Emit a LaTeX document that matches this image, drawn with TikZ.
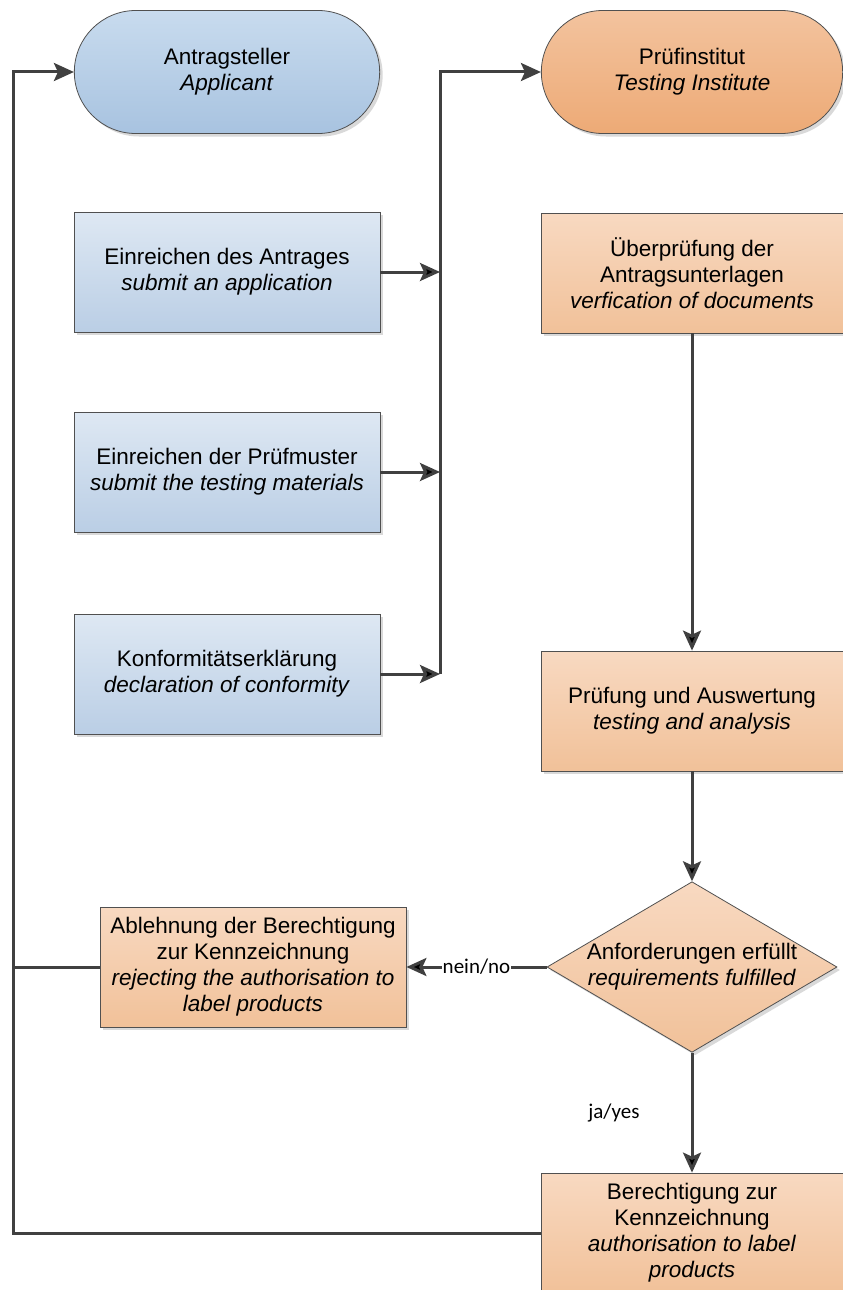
\documentclass[tikz,border=0pt]{standalone}
\usepackage{fontspec}
\setmainfont{Liberation Sans}
\newfontfamily\lblfont{Carlito}
\usetikzlibrary{arrows.meta, shapes.misc, shapes.geometric, shadows}

\definecolor{appTop}{HTML}{C8DBEE}
\definecolor{appBot}{HTML}{A8C3E0}
\definecolor{blueTop}{HTML}{DEE8F3}
\definecolor{blueBot}{HTML}{BACEE5}
\definecolor{instTop}{HTML}{F3C39E}
\definecolor{instBot}{HTML}{EDAA76}
\definecolor{orTop}{HTML}{F8D9C1}
\definecolor{orBot}{HTML}{F1C199}
\definecolor{edgeGray}{HTML}{505050}
\definecolor{flowGray}{HTML}{404040}

\begin{document}
\begin{tikzpicture}[x=1pt,y=-1pt,>={Stealth[length=20pt,width=18pt,inset=4pt]},
  font=\fontsize{22.5}{26}\selectfont,
  box/.style={rectangle,draw=edgeGray,line width=0.8pt,align=center,
    minimum width=306,minimum height=120,
    drop shadow={shadow xshift=3pt,shadow yshift=-3pt,fill=black!25,opacity=.6}},
  pill/.style={box,rounded rectangle,minimum height=123},
  appl/.style={pill,minimum width=312,top color=appTop,bottom color=appBot},
  inst/.style={pill,minimum width=308,top color=instTop,bottom color=instBot},
  blue box/.style={box,top color=blueTop,bottom color=blueBot},
  orange box/.style={box,top color=orTop,bottom color=orBot},
  decision/.style={orange box,diamond,aspect=1.7,inner sep=0pt,
    minimum width=288,minimum height=170},
  flow/.style={draw=flowGray,line width=3pt},
  lbl/.style={font=\lblfont\fontsize{21}{25}\selectfont,fill=white,inner sep=1pt}]
  \clip (0,0) rectangle (843,1290);

  % applicant side
  \node[appl] (app) at (227,72) {Antragsteller\\\textit{Applicant}};
  \node[blue box] (sub1) at (227,272) {Einreichen des Antrages\\\textit{submit an application}};
  \node[blue box] (sub2) at (227,472) {Einreichen der Prüfmuster\\\textit{submit the testing materials}};
  \node[blue box] (sub3) at (227,674) {Konformitätserklärung\\\textit{declaration of conformity}};
  \node[orange box] (rej) at (253,967) {Ablehnung der Berechtigung\\zur Kennzeichnung\\\textit{rejecting the authorisation to}\\\textit{label products}};

  % testing institute side
  \node[inst] (lab) at (692,72) {Prüfinstitut\\\textit{Testing Institute}};
  \node[orange box,minimum width=302] (ver) at (692,273) {Überprüfung der\\Antragsunterlagen\\\textit{verfication of documents}};
  \node[orange box,minimum width=302] (test) at (692,711) {Prüfung und Auswertung\\\textit{testing and analysis}};
  \node[decision] (req) at (692,967) {Anforderungen erfüllt\\\textit{requirements fulfilled}};
  \node[orange box,minimum width=302] (auth) at (692,1233) {Berechtigung zur\\Kennzeichnung\\\textit{authorisation to label}\\\textit{products}};

  \coordinate (j1) at (440,272);
  \coordinate (j2) at (440,472);
  \coordinate (j3) at (440,674);
  \coordinate (bus) at (440,72);
  \coordinate (ret) at (13,1233);
  \coordinate (retMid) at (13,967);
  \coordinate (retTop) at (13,72);

  \path[flow,->]
    (sub1) edge (j1)
    (sub2) edge (j2)
    (sub3) edge (j3)
    (ver) edge (test)
    (test) edge (req)
    (req) edge node[lbl] {nein/no} (rej)
    (req) edge node[lbl,left=50pt] {ja/yes} (auth);
  \draw[flow,->] (j3) -- (bus) -- (lab.west);
  \draw[flow,->] (auth.west) -- (ret) -- (retTop) -- (app.west);
  \draw[flow] (rej.west) -- (retMid);
\end{tikzpicture}
\end{document}
